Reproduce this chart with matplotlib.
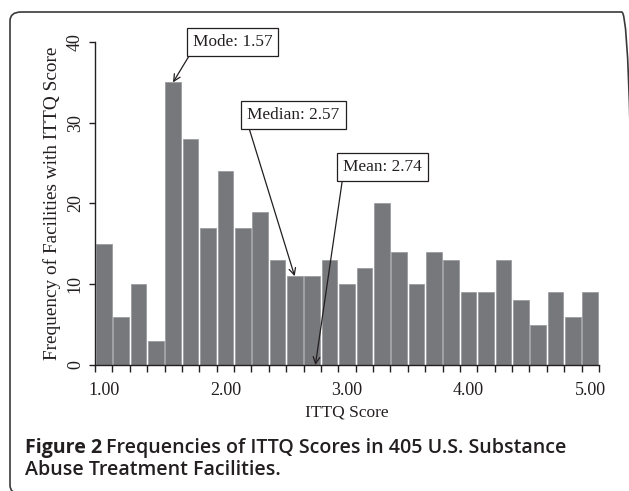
import matplotlib
matplotlib.use("Agg")
import matplotlib.pyplot as plt
from matplotlib.patches import FancyBboxPatch

# ---- data ----
categories = ["1.00", "1.14", "1.29", "1.43", "1.57", "1.71", "1.86", "2.00", "2.14", "2.29",
              "2.43", "2.57", "2.71", "2.86", "3.00", "3.14", "3.29", "3.43", "3.57", "3.71",
              "3.86", "4.00", "4.14", "4.29", "4.43", "4.57", "4.71", "4.86", "5.00"]
frequencies = [15, 6, 10, 3, 35, 28, 17, 24, 17, 19, 13, 11, 11, 13, 10, 12, 20, 14, 10, 14,
               13, 9, 9, 13, 8, 5, 9, 6, 9]
y_ticks = [0, 10, 20, 30, 40]
mode_val = 1.57
median_val = 2.57
mean_val = 2.74
score_min, score_max = 1.0, 5.0

W, H, DPI = 629, 491, 100
fig = plt.figure(figsize=(W / DPI, H / DPI), dpi=DPI)
fig.patch.set_facecolor("white")

def fx(px):
    return px / W

def fy(py):
    return 1 - py / H

ax = fig.add_axes([fx(95), fy(365), fx(599) - fx(95), fy(42) - fy(365)])

txt_color = "#231f20"
serif = ["Liberation Serif", "DejaVu Serif"]

x = list(range(len(categories)))
ax.bar(x, frequencies, width=0.9, color="#77787c", edgecolor="#9c9da0", linewidth=0.6, zorder=2)

ax.set_xlim(-0.5, len(categories) - 0.5)
ax.set_ylim(0, 40)

# spines
for s in ["top", "right"]:
    ax.spines[s].set_visible(False)
for s in ["left", "bottom"]:
    ax.spines[s].set_color(txt_color)
    ax.spines[s].set_linewidth(1.0)

# y ticks
ax.set_yticks(y_ticks)
ax.set_yticklabels([str(v) for v in y_ticks], rotation=90, va="center",
                   fontfamily=serif, fontsize=13, color=txt_color)
ax.tick_params(axis="y", direction="out", length=4, width=1.0, color=txt_color, pad=4)

# x ticks: major ticks at category boundaries, labels every 7 categories
ax.set_xticks([i - 0.5 for i in range(len(categories) + 1)])
ax.set_xticklabels([])
label_pos = [i for i in x if i % 7 == 0]
ax.set_xticks(label_pos, minor=True)
ax.set_xticklabels([categories[i] for i in label_pos], minor=True,
                   fontfamily=serif, fontsize=13, color=txt_color)
ax.tick_params(axis="x", which="major", direction="out", length=5, width=1.0, color=txt_color)
ax.tick_params(axis="x", which="minor", length=0, pad=12)

ax.set_xlabel("ITTQ Score", fontfamily=serif, fontsize=12.5, color=txt_color, labelpad=4)
ax.set_ylabel("Frequency of Facilities with ITTQ Score", fontfamily=serif, fontsize=13.9,
              color=txt_color, labelpad=4)

bin_w = (score_max - score_min) / (len(categories) - 1)

def to_pos(v):
    return (v - score_min) / bin_w

def freq_at(v):
    return frequencies[int(round(to_pos(v)))]

box = dict(boxstyle="square,pad=0.35", fc="white", ec=txt_color, lw=0.9)
arrow = dict(arrowstyle="->", color=txt_color, lw=0.9, relpos=(0, 0), shrinkA=0, shrinkB=0,
             mutation_scale=12)

ax.annotate(f"Mode: {mode_val:.2f}", xy=(to_pos(mode_val), freq_at(mode_val)),
            xytext=(7.41, 40.0), ha="center", va="center", fontfamily=serif, fontsize=12.4,
            color=txt_color, bbox=box, arrowprops=arrow, annotation_clip=False, zorder=5)
ax.annotate(f"Median: {median_val:.2f}", xy=(to_pos(median_val), freq_at(median_val)),
            xytext=(10.92, 31.0), ha="center", va="center", fontfamily=serif, fontsize=12.4,
            color=txt_color, bbox=box, arrowprops=arrow, annotation_clip=False, zorder=5)
ax.annotate(f"Mean: {mean_val:.2f}", xy=(to_pos(mean_val), 0),
            xytext=(16.04, 24.5), ha="center", va="center", fontfamily=serif, fontsize=12.4,
            color=txt_color, bbox=box, arrowprops=arrow, annotation_clip=False, zorder=5)

# outer frame (rounded corner)
frame = FancyBboxPatch((fx(10), fy(494)), fx(633) - fx(10), fy(12) - fy(494),
                       boxstyle="round,pad=0,rounding_size=0.018", transform=fig.transFigure,
                       fill=False, ec="#3a3a3a", lw=1.2, clip_on=False)
fig.patches.append(frame)

# caption
sans = ["Open Sans", "DejaVu Sans"]
cap_size = 14.1
t1 = fig.text(fx(25), fy(453), "Figure 2", fontfamily=sans, fontweight="bold",
              fontsize=cap_size, color=txt_color, va="baseline", ha="left")
fig.canvas.draw()
r = fig.canvas.get_renderer()
bb = t1.get_window_extent(renderer=r)
fig.text(bb.x1 / W + fx(4), fy(453), "Frequencies of ITTQ Scores in 405 U.S. Substance",
         fontfamily=sans, fontweight="semibold", fontsize=cap_size, color=txt_color,
         va="baseline", ha="left")
fig.text(fx(25), fy(475), "Abuse Treatment Facilities.", fontfamily=sans, fontweight="semibold",
         fontsize=cap_size, color=txt_color, va="baseline", ha="left")

fig.savefig("out.png", dpi=DPI)
